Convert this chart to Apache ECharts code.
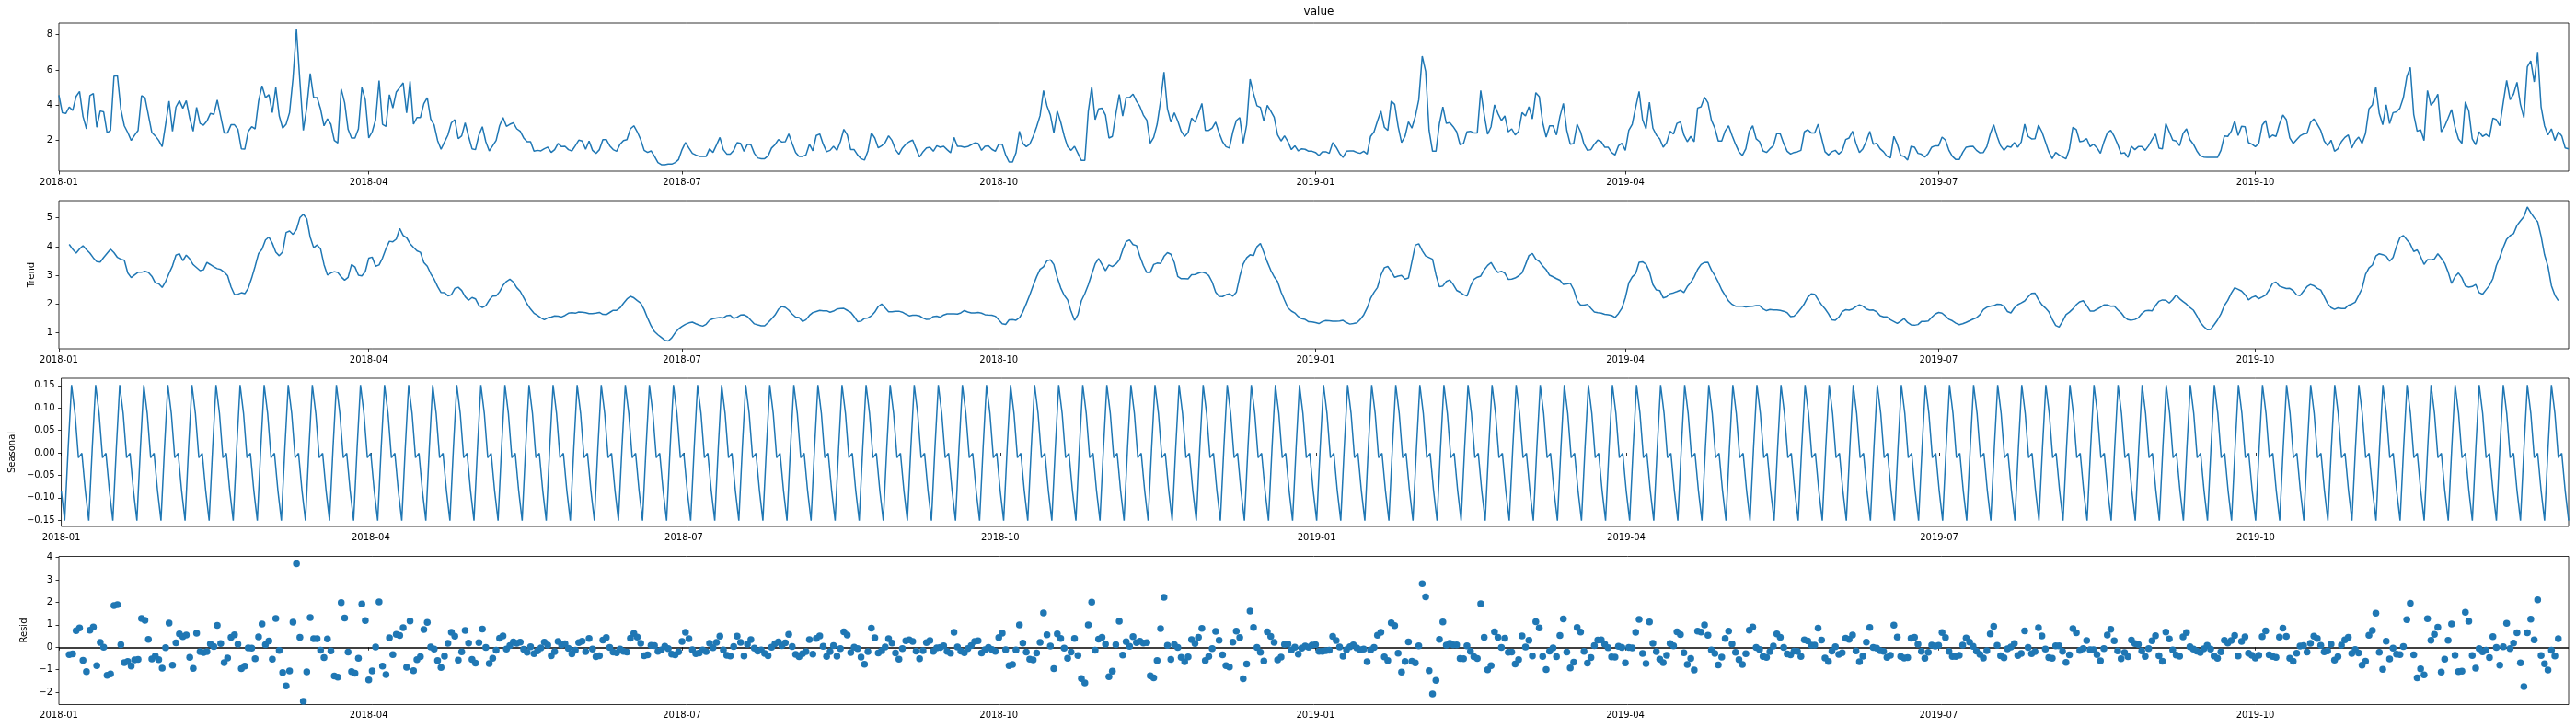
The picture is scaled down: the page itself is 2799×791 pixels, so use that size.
<!DOCTYPE html>
<html>
<head>
<meta charset="utf-8">
<script src="https://cdn.jsdelivr.net/npm/echarts@6/dist/echarts.min.js"></script>
<style>
  html, body { margin: 0; padding: 0; background: #fff; }
  #chart { width: 2799px; height: 791px; }
</style>
</head>
<body>
<div id="chart"></div>
<script>
const value2018 = [
  4.57, 3.57, 3.53, 3.90, 3.70, 4.50, 4.78, 3.36, 2.66, 4.54,
  4.66, 2.75, 3.67, 3.62, 2.43, 2.57, 5.65, 5.67, 3.76, 2.83,
  2.45, 2.00, 2.30, 2.57, 4.54, 4.43, 3.44, 2.45, 2.26, 2.00,
  1.65, 2.92, 4.23, 2.52, 3.90, 4.26, 3.83, 4.26, 3.27, 2.52,
  3.88, 2.97, 2.87, 3.10, 3.53, 3.48, 4.30, 3.36, 2.43, 2.43,
  2.89, 2.89, 2.63, 1.53, 1.51, 2.52, 2.78, 2.66, 4.23, 5.10,
  4.43, 4.60, 3.58, 5.00, 3.39, 2.70, 2.92, 3.58, 5.53, 8.31,
  5.36, 2.57, 3.88, 5.80, 4.43, 4.43, 3.79, 2.83, 3.23, 2.92,
  2.00, 1.86, 4.92, 4.14, 2.63, 2.14, 2.14, 2.66, 5.00, 4.31,
  2.14, 2.49, 3.18, 5.39, 2.92, 2.80, 4.60, 3.84, 4.75, 5.00,
  5.27, 3.57, 5.36, 2.92, 3.30, 3.30, 4.09, 4.43, 3.22, 2.87,
  2.00, 1.50, 1.91, 2.31, 3.00, 3.18, 2.10, 2.26, 3.00, 2.23,
  1.53, 1.48, 2.31, 2.78, 1.93, 1.41, 1.70, 2.00, 2.83, 3.30,
  2.80, 2.92, 3.00, 2.66, 2.52, 2.14, 1.93, 1.93, 1.39, 1.44,
  1.41, 1.53, 1.62, 1.32, 1.48, 1.83, 1.65, 1.67, 1.48, 1.41,
  1.70, 2.02, 1.97, 1.50, 1.97, 1.44, 1.27, 1.48, 2.05, 2.05,
  1.70, 1.48, 1.39, 1.79, 2.00, 2.05, 2.66, 2.83, 2.49, 2.05,
  1.44, 1.32, 1.41, 1.10, 0.75, 0.63, 0.63, 0.66, 0.66, 0.75,
  0.92, 1.48, 1.88, 1.57, 1.27, 1.18, 1.10, 1.10, 1.10, 1.53,
  1.32, 1.74, 2.17, 1.48, 1.23, 1.22, 1.44, 1.88, 1.84, 1.39,
  1.79, 1.76, 1.27, 1.01, 0.97, 0.97, 1.13, 1.57, 1.76, 2.05,
  1.91, 1.93, 2.37, 1.83, 1.32, 1.10, 1.10, 1.18, 1.79, 1.41,
  2.28, 2.37, 1.79, 1.36, 1.44, 1.67, 1.44, 1.93, 2.63, 2.31,
  1.48, 1.48, 1.18, 0.97, 0.89, 1.41, 2.43, 2.14, 1.58, 1.70,
  1.88, 2.26, 2.00, 1.48, 1.22, 1.57, 1.79, 1.93, 2.02, 1.53,
  1.06, 1.36, 1.58, 1.62, 1.39, 1.70, 1.62, 1.67, 1.48, 1.30,
  2.17, 1.67, 1.67, 1.62, 1.65, 1.76, 1.86, 1.84, 1.44, 1.67,
  1.70, 1.50, 1.39, 1.79, 1.79, 1.18, 0.78, 0.78, 1.30, 2.52,
  1.83, 1.65, 1.79, 2.23, 2.78, 3.41, 4.83, 3.97, 3.44, 2.43,
  3.67, 3.04, 2.26, 1.65, 1.44, 1.67, 1.27, 0.87, 0.87, 3.65,
  5.04, 3.18, 3.79, 3.83, 3.44, 2.14, 2.23, 3.50, 4.61, 3.39,
  4.43, 4.43, 4.63, 4.23, 3.93, 3.44, 3.15, 1.84, 2.17, 2.92,
  4.23, 5.88, 3.79, 3.04, 3.57, 3.10, 2.52, 2.23, 2.45, 3.27,
  3.04, 3.53, 4.10, 2.57, 2.57, 2.70, 3.04, 2.43, 1.93, 1.65,
  1.57, 2.49, 3.13, 3.30, 1.84, 2.87, 5.48, 4.66, 3.97, 3.88,
  3.10, 4.00, 3.67, 3.32, 2.31, 1.97, 2.26, 1.93, 1.48, 1.70,
  1.41, 1.53, 1.50, 1.39, 1.39
];
const value2019 = [
  1.32, 1.15, 1.36, 1.36, 1.27,
  1.88, 1.62, 1.27, 1.04, 1.39, 1.41, 1.41, 1.32, 1.27, 1.39,
  1.23, 2.23, 2.49, 3.10, 3.67, 2.75, 2.57, 4.23, 4.05, 2.80,
  1.88, 2.23, 3.06, 2.70, 3.36, 4.31, 6.78, 5.91, 2.57, 1.39,
  1.39, 2.96, 3.91, 2.97, 3.01, 2.78, 2.49, 1.76, 1.83, 2.49,
  2.52, 2.43, 2.43, 4.83, 3.48, 2.35, 2.78, 4.02, 3.53, 3.13,
  3.39, 2.49, 2.66, 2.31, 2.52, 3.58, 3.39, 3.91, 3.22, 4.71,
  4.49, 3.01, 2.19, 2.83, 2.83, 2.31, 3.36, 4.10, 2.57, 1.79,
  1.83, 2.92, 2.49, 1.79, 1.44, 1.48, 1.79, 2.02, 1.93, 1.62,
  1.62, 1.32, 1.18, 1.70, 1.84, 1.44, 2.57, 2.92, 3.88, 4.78,
  3.18, 2.66, 4.17, 2.70, 2.31, 2.09, 1.62, 1.88, 2.52, 2.37,
  2.97, 3.06, 2.31, 1.93, 2.23, 1.93, 3.84, 3.91, 4.45, 4.14,
  3.15, 2.70, 1.97, 1.97, 2.54, 2.83, 2.28, 1.79, 1.36, 1.15,
  1.53, 2.52, 2.83, 2.09, 1.93, 1.41, 1.32, 1.53, 1.70, 2.40,
  2.37, 1.83, 1.39, 1.23, 1.32, 1.36, 1.44, 2.49, 2.61, 2.43,
  2.43, 2.92, 2.14, 1.36, 1.18, 1.36, 1.44, 1.23, 1.41, 2.05,
  2.14, 2.52, 1.83, 1.32, 1.53, 1.97, 2.52, 1.79, 1.84, 1.53,
  1.36, 1.10, 1.01, 2.23, 1.79, 1.15, 1.10, 0.89, 1.67, 1.62,
  1.27, 1.22, 1.06, 1.27, 1.62, 1.70, 1.70, 2.19, 2.02, 1.44,
  1.10, 0.92, 0.92, 1.32, 1.62, 1.65, 1.67, 1.44, 1.30, 1.32,
  1.65, 2.37, 2.89, 2.23, 1.70, 1.44, 1.67, 1.62, 1.88, 1.62,
  1.91, 2.92, 2.23, 2.09, 2.10, 2.87, 2.49, 1.93, 1.36, 0.97,
  1.32, 1.18, 1.06, 0.96, 1.53, 2.75, 2.61, 1.93, 1.97, 2.10,
  1.65, 1.79, 1.58, 1.27, 1.91, 2.43, 2.57, 2.23, 1.79, 1.27,
  1.30, 1.04, 1.67, 1.48, 1.65, 1.65, 1.44, 1.70, 2.05, 2.37,
  1.57, 1.53, 2.96, 2.49, 2.02, 1.97, 1.70, 2.40, 2.66, 2.05,
  1.79, 1.41, 1.13, 1.06, 1.04, 1.04, 1.04, 1.04, 1.44, 2.26,
  2.23, 2.52, 3.10, 2.28, 2.80, 2.78, 1.88, 1.79, 1.65, 1.84,
  2.87, 3.13, 2.14, 2.31, 2.23, 2.92, 3.44, 3.18, 2.14, 1.83,
  2.05, 2.26, 2.37, 2.40, 3.01, 3.22, 2.92, 2.57, 1.97, 1.70,
  2.02, 1.39, 1.53, 1.93, 2.17, 2.31, 1.57, 1.97, 2.19, 1.83,
  2.40, 3.79, 4.02, 5.04, 3.53, 2.89, 4.02, 2.96, 3.58, 3.62,
  3.84, 4.43, 5.62, 6.14, 3.48, 2.52, 2.61, 2.00, 4.83, 4.00,
  4.23, 4.63, 2.49, 2.80, 3.27, 3.76, 2.75, 2.09, 1.84, 4.19,
  3.67, 2.09, 1.76, 2.49, 2.23, 2.35, 2.19, 3.27, 3.18, 2.83,
  4.14, 5.41, 4.31, 4.63, 5.30, 4.05, 3.30, 6.17, 6.52, 5.32,
  6.97, 3.91, 2.83, 2.31, 2.66, 2.00, 2.49, 2.26, 1.58, 1.53
];
// one period of the weekly seasonal component (Monday first)
const seasonalWeek = [-0.085, -0.151, 0.008, 0.151, 0.088, -0.011, -0.001];

const quarterTicks = ['2018-01', '2018-04', '2018-07', '2018-10', '2019-01', '2019-04', '2019-07', '2019-10'];
const valueTicks = [2, 4, 6, 8];
const trendTicks = [1, 2, 3, 4, 5];
const seasonalTicks = [-0.15, -0.10, -0.05, 0, 0.05, 0.10, 0.15];
const residTicks = [-2, -1, 0, 1, 2, 3, 4];

// additive decomposition, period 7
const values = value2018.concat(value2019);
const dates = values.map((_, i) => new Date(Date.UTC(2018, 0, 1 + i)).toISOString().slice(0, 10));
const seasonal = values.map((_, i) => seasonalWeek[i % 7]);
const trend = values.map((_, i) => {
  if (i < 3 || i > values.length - 4) return null;
  let s = 0;
  for (let k = -3; k <= 3; k++) s += values[i + k];
  return s / 7;
});
const resid = values.map((v, i) => trend[i] == null ? null : v - trend[i] - seasonal[i]);

const FONT = 'DejaVu Sans';
const BLUE = '#1f77b4';
const minus = s => s.replace('-', '\u2212');
const isQuarter = (idx, val) => val.slice(8) === '01' && quarterTicks.indexOf(val.slice(0, 7)) >= 0;

const panels = [
  { name: '', ticks: valueTicks, min: 0.26, max: 8.66, gap: 0, fmt: v => minus(String(v)) },
  { name: 'Trend', ticks: trendTicks, min: 0.44, max: 5.60, gap: 21, fmt: v => minus(String(v)) },
  { name: 'Seasonal', ticks: seasonalTicks, min: -0.164, max: 0.166, gap: 47, fmt: v => minus(v.toFixed(2)) },
  { name: 'Resid', ticks: residTicks, min: -2.55, max: 4.05, gap: 29, fmt: v => minus(String(v)) }
];
const tops = [25, 218, 411, 604.5];

const chart = echarts.init(document.getElementById('chart'), null, { renderer: 'canvas' });
chart.setOption({
  animation: false,
  backgroundColor: '#fff',
  title: {
    text: 'value', left: 1428, top: 2, textAlign: 'center',
    textStyle: { fontFamily: FONT, fontSize: 12, fontWeight: 'normal', color: '#000' }
  },
  grid: tops.map(t => ({
    left: 64, right: 8, top: t, height: 161,
    show: true, borderColor: '#000', borderWidth: 0.8, backgroundColor: 'transparent'
  })),
  xAxis: tops.map((_, i) => ({
    type: 'category', gridIndex: i, data: dates, boundaryGap: false,
    axisLine: { show: false },
    axisTick: { show: true, interval: isQuarter, length: 3.5, lineStyle: { color: '#000', width: 0.8 } },
    axisLabel: { interval: isQuarter, formatter: v => v.slice(0, 7), margin: 7, color: '#000', fontSize: 10, fontFamily: FONT },
    splitLine: { show: false }
  })),
  yAxis: panels.map((p, i) => ({
    type: 'value', gridIndex: i, min: p.min, max: p.max,
    name: p.name, nameLocation: 'middle', nameRotate: 90, nameGap: p.gap,
    nameTextStyle: { fontFamily: FONT, fontSize: 10, color: '#000' },
    axisLine: { show: false },
    splitLine: { show: false },
    axisTick: { show: true, customValues: p.ticks, length: 3.5, lineStyle: { color: '#000', width: 0.8 } },
    axisLabel: { customValues: p.ticks, formatter: p.fmt, margin: 7, color: '#000', fontSize: 10, fontFamily: FONT }
  })),
  series: [
    { type: 'line', xAxisIndex: 0, yAxisIndex: 0, data: values, showSymbol: false, lineStyle: { color: BLUE, width: 1.5 } },
    { type: 'line', xAxisIndex: 1, yAxisIndex: 1, data: trend, showSymbol: false, lineStyle: { color: BLUE, width: 1.5 } },
    { type: 'line', xAxisIndex: 2, yAxisIndex: 2, data: seasonal, showSymbol: false, lineStyle: { color: BLUE, width: 1.5 } },
    {
      type: 'scatter', xAxisIndex: 3, yAxisIndex: 3, data: resid, symbolSize: 7.5,
      itemStyle: { color: BLUE, opacity: 1 },
      markLine: {
        z: 1, silent: true, symbol: ['none', 'none'], label: { show: false },
        lineStyle: { color: '#000', width: 1.5, type: 'solid' },
        data: [{ yAxis: 0 }]
      }
    }
  ]
});
</script>
</body>
</html>
